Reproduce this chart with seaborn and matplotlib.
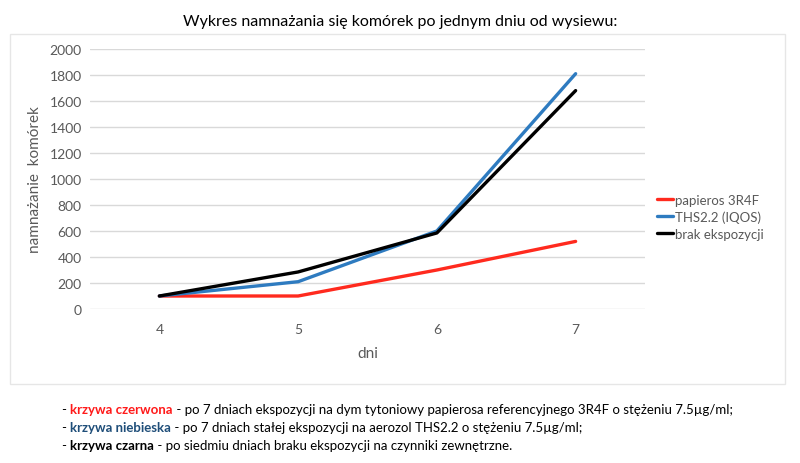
import matplotlib
matplotlib.use("Agg")
import matplotlib.pyplot as plt
import pandas as pd
import seaborn as sns

days = ["4", "5", "6", "7"]
series_names = ["papieros 3R4F", "THS2.2 (IQOS)", "brak ekspozycji"]
red_vals = [100, 100, 300, 520]
blue_vals = [100, 210, 600, 1810]
black_vals = [100, 285, 585, 1680]
colors = ["#FF2A1E", "#2E7BC0", "#000000"]

df = pd.DataFrame({
    "dni": days * 3,
    "value": red_vals + blue_vals + black_vals,
    "series": [s for s in series_names for _ in days],
})
df["x"] = df["dni"].astype(int)

sns.set_style("white")
plt.rcParams["font.family"] = ["Lato", "DejaVu Sans"]

fig = plt.figure(figsize=(8, 4.64), dpi=100)
fig.patch.set_facecolor("white")

# light frame of the chart area
frame = plt.Rectangle((10 / 800, 1 - 385 / 464), 775 / 800, 350 / 464,
                      transform=fig.transFigure, fill=False,
                      edgecolor="#E6E6E6", linewidth=1)
fig.add_artist(frame)

ax = fig.add_axes([90 / 800, 1 - 310 / 464, 555 / 800, 260 / 464])
sns.lineplot(data=df, x="x", y="value", hue="series", palette=colors,
             linewidth=2.4, ax=ax, legend=True)

ax.set_xlim(3.5, 7.5)
ax.set_ylim(0, 2000)
ax.set_xticks([4, 5, 6, 7])
ax.set_xticklabels(days)
ax.set_yticks(range(0, 2001, 200))
ax.tick_params(axis="both", colors="#595959", labelsize=10, length=0)
ax.tick_params(axis="x", pad=10)
ax.tick_params(axis="y", pad=6)
ax.grid(axis="y", color="#D9D9D9", linewidth=1)
ax.set_axisbelow(True)
for s in ax.spines.values():
    s.set_visible(False)

ax.set_xlabel("dni", color="#595959", fontsize=11, labelpad=8)
ax.set_ylabel("namnażanie  komórek", color="#595959", fontsize=11, labelpad=5)

leg = ax.legend(loc="center left", bbox_to_anchor=(1.0, 0.355), frameon=False,
                fontsize=9.5, handlelength=1.2, handletextpad=0.2,
                labelspacing=0.35)
for t in leg.get_texts():
    t.set_color("#595959")

fig.text(0.5, 1 - 22 / 464, "Wykres namnażania się komórek po jednym dniu od wysiewu:",
         ha="center", va="center", fontsize=11.5, color="#000000")

# notes below the chart
notes = [
    ("krzywa czerwona", "#FF1A1A", " - po 7 dniach ekspozycji na dym tytoniowy papierosa referencyjnego 3R4F o stężeniu 7.5µg/ml;"),
    ("krzywa niebieska", "#1F4E79", " - po 7 dniach stałej ekspozycji na aerozol THS2.2 o stężeniu 7.5µg/ml;"),
    ("krzywa czarna", "#000000", " - po siedmiu dniach braku ekspozycji na czynniki zewnętrzne."),
]
y0 = 410
for i, (key, col, rest) in enumerate(notes):
    t1 = fig.text(62 / 800, 1 - (y0 + 18 * i) / 464, "- ", fontsize=9.5,
                  va="center", color="#000000")
    t2 = ax.annotate(key, xy=(1, 0), xycoords=t1, va="bottom", ha="left",
                     fontsize=9.5, fontweight="bold", color=col)
    ax.annotate(rest, xy=(1, 0), xycoords=t2, va="bottom", ha="left",
                fontsize=9.5, color="#000000")

fig.savefig("out.png", dpi=100)
